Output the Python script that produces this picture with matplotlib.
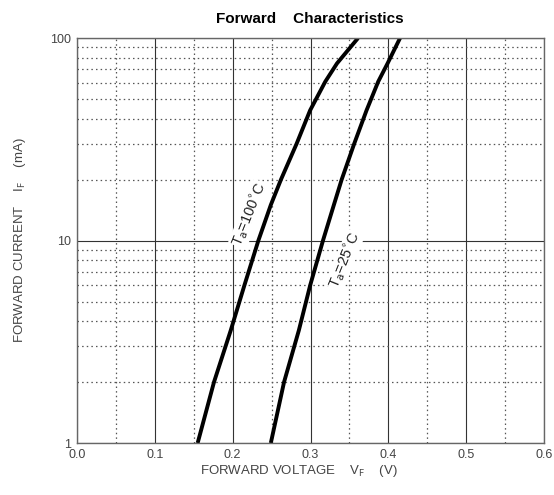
import numpy as np
import matplotlib.pyplot as plt
from matplotlib.ticker import FixedLocator, NullFormatter

plt.rcParams['font.family'] = ['Liberation Sans', 'DejaVu Sans']

current_ma = [1, 2, 3.6, 6, 10, 15, 20, 30, 44, 61, 75, 100]
vf_100c = [0.155, 0.176, 0.1975, 0.215, 0.233, 0.249, 0.262, 0.282, 0.2995, 0.319, 0.334, 0.361]
vf_25c = [0.249, 0.266, 0.285, 0.2995, 0.316, 0.330, 0.340, 0.356, 0.372, 0.387, 0.399, 0.415]

x_ticks = [0.0, 0.1, 0.2, 0.3, 0.4, 0.5, 0.6]
x_minor = [0.05, 0.15, 0.25, 0.35, 0.45, 0.55]
y_ticks = [1, 10, 100]
y_tick_labels = ['1', '10', '100']

fig = plt.figure(figsize=(5.54, 4.95), dpi=100)
ax = fig.add_axes([0.139, 0.105, 0.843, 0.818])

ax.set_xlim(0.0, 0.6)
ax.set_yscale('log')
ax.set_ylim(1, 100)

ax.xaxis.set_major_locator(FixedLocator(x_ticks))
ax.xaxis.set_minor_locator(FixedLocator(x_minor))
ax.set_xticklabels([f'{t:.1f}' for t in x_ticks])
ax.yaxis.set_major_locator(FixedLocator(y_ticks))
ax.yaxis.set_minor_locator(FixedLocator([2, 3, 4, 5, 6, 7, 8, 9,
                                         20, 30, 40, 50, 60, 70, 80, 90]))
ax.set_yticklabels(y_tick_labels)
ax.yaxis.set_minor_formatter(NullFormatter())

ax.grid(True, which='major', color='#333333', linewidth=0.8, linestyle='-')
ax.grid(True, which='minor', color='#555555', linewidth=0.9, linestyle=(0, (1.2, 2.5)))
ax.set_axisbelow(True)
ax.tick_params(which='both', length=0, labelsize=9, colors='#444444', pad=4)
for s in ax.spines.values():
    s.set_color('#666666')
    s.set_linewidth(1.0)

ax.plot(vf_100c, current_ma, color='black', linewidth=2.8,
        solid_capstyle='butt', solid_joinstyle='round')
ax.plot(vf_25c, current_ma, color='black', linewidth=2.8,
        solid_capstyle='butt', solid_joinstyle='round')

ax.text(0.222, 13.5, r'T$_{\rm a}$=100$^{\circ}$C', rotation=68, fontsize=10.5,
        ha='center', va='center', color='#222222',
        bbox=dict(facecolor='white', edgecolor='none', pad=0.5))
ax.text(0.344, 8.0, r'T$_{\rm a}$=25$^{\circ}$C', rotation=68, fontsize=10.5,
        ha='center', va='center', color='#222222',
        bbox=dict(facecolor='white', edgecolor='none', pad=0.5))

fig.text(0.56, 0.962, 'Forward    Characteristics', ha='center', va='center',
         fontsize=11, fontweight='bold')
fig.text(0.54, 0.048, r'FORWARD VOLTAGE    V$_{\rm F}$    (V)', ha='center',
         va='center', fontsize=9.5, color='#444444')
fig.text(0.036, 0.515, r'FORWARD CURRENT    I$_{\rm F}$    (mA)', ha='center',
         va='center', rotation=90, fontsize=9.5, color='#444444')

fig.savefig('out.png', dpi=100)
